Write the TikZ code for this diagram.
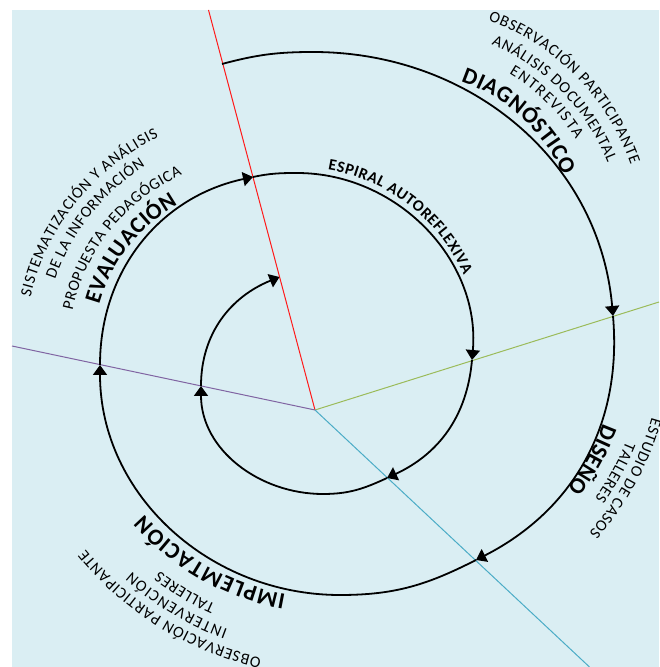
\documentclass[tikz,border=0pt]{standalone}
\usepackage{fontspec}
\setmainfont{Carlito}
\usetikzlibrary{arrows.meta, decorations.text}

\definecolor{fondo}{HTML}{DAEEF3}
\definecolor{rojo}{HTML}{FF1A1A}
\definecolor{verde}{HTML}{9BBB59}
\definecolor{azul}{HTML}{4BACC6}
\definecolor{morado}{HTML}{8064A2}

\newcommand{\titulo}{\fontsize{23}{25}\selectfont\bfseries}
\newcommand{\etiq}{\fontsize{16}{18}\selectfont}

\tikzset{
  espiral/.style={line width=1.8pt, black},
  flecha/.style={espiral, -{Triangle[length=10pt, width=14pt]}},
  radio/.style={line width=1pt},
  arco/.style={decorate, decoration={text along path, text align=fit to path, text={#1}}},
}

\begin{document}
\begin{tikzpicture}[x=1pt, y=1pt]

  \useasboundingbox (0, 0) rectangle (659, 667);
  \fill[fondo] (12, 0) rectangle (659, 657);

  % ejes de las fases
  \coordinate (C) at (315, 257);
  \coordinate (finR) at (208.5, 657);
  \coordinate (finV) at (659, 365);
  \coordinate (finA) at (589.5, 0);
  \coordinate (finM) at (12, 321);

  \draw[radio, rojo]   (C) -- (finR);
  \draw[radio, verde]  (C) -- (finV);
  \draw[radio, azul]   (C) -- (finA);
  \draw[radio, morado] (C) -- (finM);

  % espiral
  \coordinate (S0) at (222, 603);
  \coordinate (T1) at (313, 615);
  \coordinate (G1) at (613, 351);
  \coordinate (B1) at (476, 107);
  \coordinate (U1) at (340, 72);
  \coordinate (P1) at (100, 302);
  \coordinate (R1) at (253, 490);
  \coordinate (T2) at (297, 494);
  \coordinate (G2) at (472, 307);
  \coordinate (B2) at (387, 189);
  \coordinate (U2) at (323, 173);
  \coordinate (P2) at (201, 281);
  \coordinate (E)  at (279.5, 390);

  \draw[espiral] (S0) to[out=15, in=180] (T1);
  \draw[flecha]  (T1) to[out=0, in=95] (G1);
  \draw[flecha]  (G1) to[out=-85, in=27] (B1);
  \draw[espiral] (B1) to[out=-153, in=0] (U1);
  \draw[flecha]  (U1) to[out=180, in=-90] (P1);
  \draw[flecha]  (P1) to[out=90, in=-168] (R1);
  \draw[espiral] (R1) to[out=12, in=180] (T2);
  \draw[flecha]  (T2) to[out=0, in=85] (G2);
  \draw[flecha]  (G2) to[out=-95, in=25] (B2);
  \draw[espiral] (B2) to[out=-155, in=0] (U2);
  \draw[flecha]  (U2) to[out=180, in=-90] (P2);
  \draw[flecha]  (P2) to[out=90, in=-158] (E);

  % textos curvos
  \coordinate (Cd) at (407, 424);
  \coordinate (Ce) at (260, 317);
  \coordinate (Cs) at (364, 332);
  \coordinate (Ci) at (330, 317);
  \coordinate (Ca) at (297, 317);

  \path[arco={|\fontsize{16}{18}\selectfont\bfseries|ESPIRAL AUTOREFLEXIVA}]
    ([shift={(80.3:183pt)}]Ca) arc[start angle=80.3, end angle=24.3, radius=183pt];

  \path[arco={|\titulo|DIAGNÓSTICO}]
    ([shift={(71.5:170pt)}]Cd) arc[start angle=71.5, end angle=23.5, radius=170pt];
  \foreach \a/\b/\r/\txt in {59/31.5/198/ENTREVISTA, 67/21.7/216/ANÁLISIS DOCUMENTAL,
                             70/19.3/237/OBSERVACIÓN PARTICIPANTE} {
    \path[arco/.expanded={|\noexpand\etiq|\txt}]
      ([shift={(\a:\r pt)}]Cd) arc[start angle=\a, end angle=\b, radius=\r pt];
  }

  \path[arco={|\titulo|DISEÑO}]
    ([shift={(-20.4:255pt)}]Cs) arc[start angle=-20.4, end angle=-37, radius=255pt];
  \foreach \a/\b/\r/\txt in {-22.2/-35.3/283/TALLERES, -16/-41.3/299.5/ESTUDIO DE CASOS} {
    \path[arco/.expanded={|\noexpand\etiq|\txt}]
      ([shift={(\a:\r pt)}]Cs) arc[start angle=\a, end angle=\b, radius=\r pt];
  }

  \path[arco={|\titulo|IMPLEMTACIÓN}]
    ([shift={(-100.2:248.5pt)}]Ci) arc[start angle=-100.2, end angle=-138.5, radius=248.5pt];
  \foreach \a/\b/\r/\txt in {-114.2/-127.6/279/TALLERES, -110.1/-131.8/297.5/INTERVENCIÓN,
                             -102.5/-140.8/315.5/OBSERVACIÓN PARTICIPANTE} {
    \path[arco/.expanded={|\noexpand\etiq|\txt}]
      ([shift={(\a:\r pt)}]Ci) arc[start angle=\a, end angle=\b, radius=\r pt];
  }

  \path[arco={|\titulo|EVALUACIÓN}]
    ([shift={(164.3:167pt)}]Ce) arc[start angle=164.3, end angle=119.5, radius=167pt];
  \foreach \a/\b/\r/\txt in {168/114/191.5/PROPUESTA PEDAGÓGICA, 161/122/216.5/DE LA INFORMACIÓN,
                             167/115.5/235.5/SISTEMATIZACIÓN Y ANÁLISIS} {
    \path[arco/.expanded={|\noexpand\etiq|\txt}]
      ([shift={(\a:\r pt)}]Ce) arc[start angle=\a, end angle=\b, radius=\r pt];
  }

\end{tikzpicture}
\end{document}
